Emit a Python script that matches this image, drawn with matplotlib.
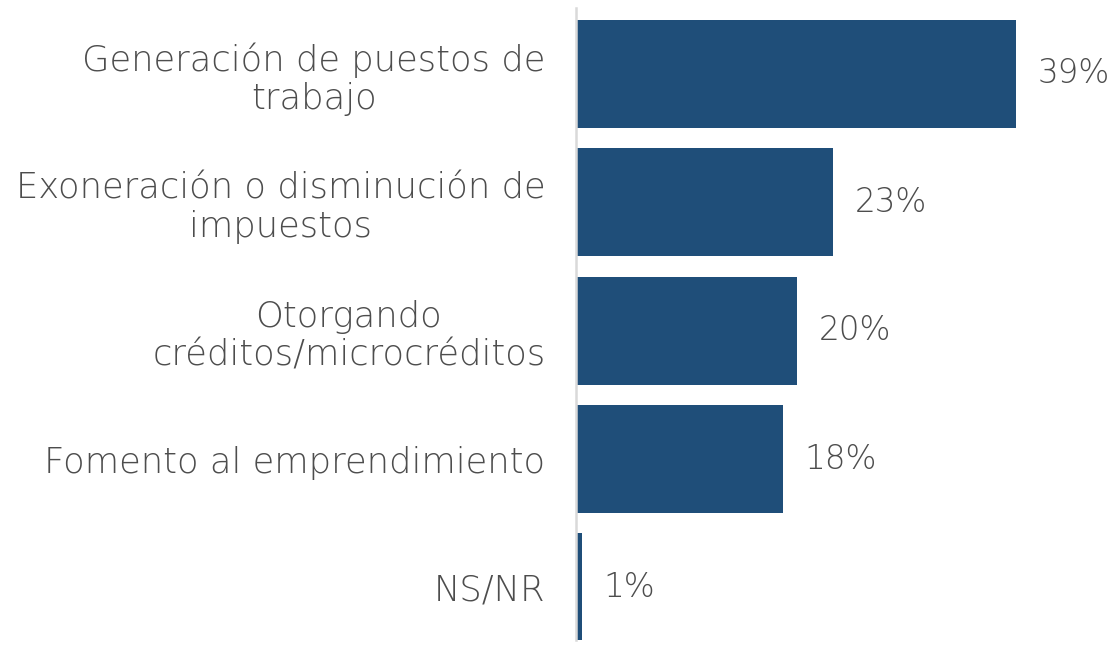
import matplotlib.pyplot as plt

categories = ["Generación de puestos de\ntrabajo",
              "Exoneración o disminución de\nimpuestos",
              "Otorgando\ncréditos/microcréditos",
              "Fomento al emprendimiento",
              "NS/NR"]
values = [39.0, 22.8, 19.6, 18.3, 0.5]
value_labels = ["39%", "23%", "20%", "18%", "1%"]

plt.rcParams['font.family'] = ['DejaVu Sans']

fig = plt.figure(figsize=(11.12, 6.48), dpi=100)
ax = fig.add_axes([0.518, 8 / 648, 0.98 - 0.518, 632 / 648])

pos = range(len(categories))
ax.barh(pos, values, height=0.84, color='#1f4e79')

# value labels to the right of each bar
for p, v, lab in zip(pos, values, value_labels):
    ax.text(v + 1.9, p, lab, va='center', ha='left', fontsize=23.5,
            color='#4d4d4d', fontweight='light')

ax.set_xlim(0, 45.5)
ax.set_ylim(4.41, -0.514)
ax.set_yticks(list(pos))
ax.set_yticklabels(categories, fontsize=25.5, color='#4d4d4d', fontweight='light',
                   linespacing=1.15)
for t in ax.get_yticklabels():
    t.set_multialignment('center')
ax.tick_params(axis='y', length=0, pad=22)
ax.set_xticks([])

for s in ['top', 'right', 'bottom']:
    ax.spines[s].set_visible(False)
ax.spines['left'].set_color('#d9d9d9')
ax.spines['left'].set_linewidth(1.8)

fig.savefig('out.png', dpi=100)
